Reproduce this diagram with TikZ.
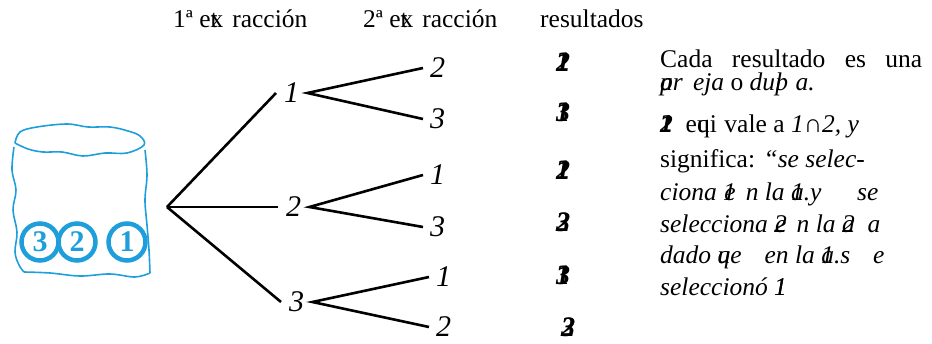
\documentclass[tikz,border=0pt]{standalone}
\usepackage{fontspec}
\setmainfont{Liberation Serif}
% glyph #1 printed on top of glyph #2
\newcommand{\ov}[2]{\rlap{#1}#2}
\definecolor{urnblue}{RGB}{30,158,218}
\begin{document}
\begin{tikzpicture}[x=1pt,y=-1pt,
  branch/.style={line width=2.6pt,black},
  lab/.style={font=\fontsize{30}{30}\selectfont\itshape,inner xsep=8pt,inner ysep=2pt,anchor=west},
  res/.style={font=\fontsize{28}{28}\selectfont\bfseries\itshape,inner sep=0pt},
  head/.style={font=\fontsize{25.5}{25.5}\selectfont,anchor=base west,inner sep=0pt},
  txt/.style={font=\fontsize{25.5}{25.5}\selectfont,anchor=base west,inner sep=0pt},
  ball/.style={circle,draw=urnblue,line width=4.5pt,minimum size=37pt,inner sep=0pt,
    text=urnblue,font=\fontsize{30}{30}\selectfont\bfseries},
  urn/.style={urnblue,line width=1.6pt,line join=round}]
\useasboundingbox (0,0) rectangle (932,343);

% column headings
\node[head] (h1) at (173,27) {1ª e\ov{t}{x}\hspace{0.35em}racción};
\node[head] (h2) at (363,27) {2ª e\ov{t}{x}\hspace{0.35em}racción};
\node[head] (h3) at (540,27) {resultados};

% urn with three numbered balls
\draw[urn] plot[smooth,tension=0.6] coordinates {(15,143) (20,132) (37,127) (67,124) (88,127) (110,127) (128,131) (140,136) (144,145) (127,153) (105,153) (83,156) (62,152) (43,152) (28,149) (15,143)};
\draw[urn] plot[smooth,tension=0.6] coordinates {(14,147) (12,170) (16,190) (13,210) (17,232) (15,252) (19,265) (24,272)};
\draw[urn] plot[smooth,tension=0.6] coordinates {(24,272) (50,273) (80,276) (110,274) (135,277) (150,273)};
\draw[urn] plot[smooth,tension=0.6] coordinates {(145,150) (147,175) (145,200) (147,225) (149,250) (150,273)};
\node[ball] (b3) at (40,242) {3};
\node[ball] (b2) at (77,242) {2};
\node[ball] (b1) at (127,242) {1};

% probability tree
\coordinate (r) at (167,207);
\node[lab] (n1) at (276,93) {1};
\node[lab] (n2) at (278,207) {2};
\node[lab] (n3) at (281,302) {3};
\node[lab,inner xsep=7pt] (n12) at (423,68) {2};
\node[lab,inner xsep=7pt] (n13) at (423,119) {3};
\node[lab,inner xsep=7pt] (n21) at (423,175) {1};
\node[lab,inner xsep=7pt] (n23) at (423,227) {3};
\node[lab,inner xsep=7pt] (n31) at (429,277) {1};
\node[lab,inner xsep=7pt] (n32) at (429,327) {2};
\draw[branch] (r) -- (n1.west);
\draw[branch] (r) -- (n2.west);
\draw[branch] (r) -- (n3.west);
\draw[branch] (n12.west) -- (n1.east) -- (n13.west);
\draw[branch] (n21.west) -- (n2.east) -- (n23.west);
\draw[branch] (n31.west) -- (n3.east) -- (n32.west);

% outcomes
\node[res] (o12) at (563,62) {\ov{1}{2}};
\node[res] (o13) at (563,112) {\ov{1}{3}};
\node[res] (o21) at (563,170) {\ov{1}{2}};
\node[res] (o23) at (563,222) {\ov{2}{3}};
\node[res] (o31) at (563,275) {\ov{1}{3}};
\node[res] (o32) at (568,327) {\ov{2}{3}};

% explanation
\node[txt] (t1) at (660,67) {\makebox[262pt][s]{Cada resultado es una}};
\node[txt] (t2) at (660,90) {\textit{\ov{a}{p}r\hspace{0.4em}eja} o \textit{du\ov{l}{p}\hspace{0.3em}a.}};
\node[txt] (t3) at (660,132) {\textbf{\textit{\ov{1}{2}}}\hspace{0.5em}e\ov{u}{q}i\hspace{0.3em}vale a \textit{1∩2, y}};
\node[txt] (t4) at (660,167) {significa: \textit{“se selec-}};
\node[txt] (t5) at (660,200) {\textit{ciona \ov{1}{\kern1pt e}\hspace{0.4em}n la \ov{1}{a}.y\hspace{1.4em}se}};
\node[txt] (t6) at (660,232) {\textit{selecciona \ov{2}{\kern1pt e}\hspace{0.4em}n la \ov{2}{a}\hspace{0.5em}a}};
\node[txt] (t7) at (660,263) {\textit{dado \ov{u}{q}e\hspace{0.9em}en la \ov{1}{a}.s\hspace{0.9em}e}};
\node[txt] (t8) at (660,295) {\textit{seleccionó \ov{1}{1}}};
\end{tikzpicture}
\end{document}
